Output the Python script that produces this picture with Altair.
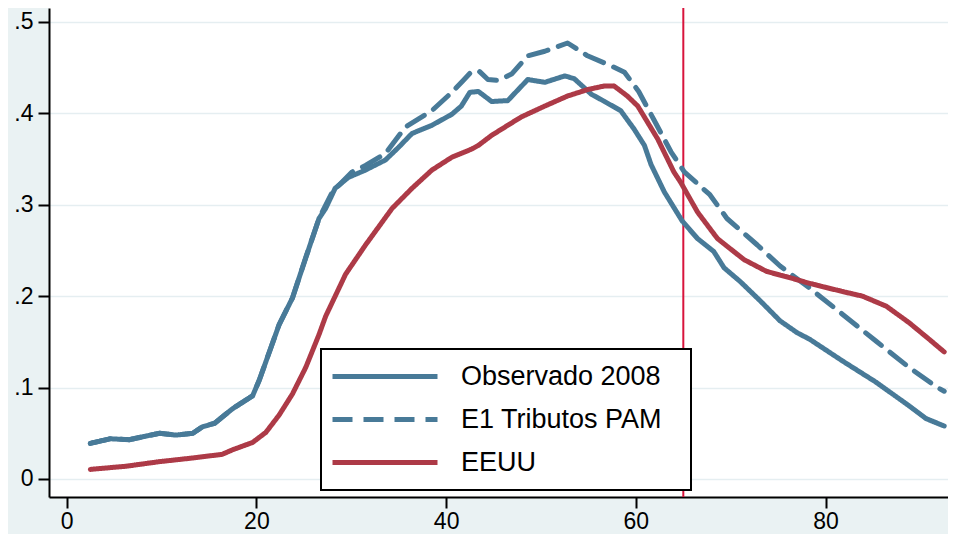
import altair as alt
import pandas as pd

# ---- data ----
series_names = ["Observado 2008", "E1 Tributos PAM", "EEUU"]

obs_x = [2.5, 4.6, 6.6, 8.4, 9.8, 11.5, 13.3, 14.3, 15.6, 17.5, 19.6, 20.3, 21.3, 22.4,
         23.8, 25.2, 26.6, 27.3, 28.3, 29.7, 31.5, 33.6, 35.0, 36.4, 38.5, 40.6, 41.6,
         42.5, 43.4, 44.8, 46.5, 48.6, 50.4, 52.5, 53.5, 55.3, 56.7, 58.4, 59.8, 60.9,
         61.6, 63.0, 64.9, 66.5, 68.2, 69.3, 71.0, 73.1, 75.2, 77.0, 78.3, 81.8, 85.3,
         88.8, 90.6, 92.5]
obs_y = [0.039, 0.044, 0.043, 0.047, 0.050, 0.048, 0.050, 0.057, 0.061, 0.077, 0.091,
         0.108, 0.137, 0.169, 0.198, 0.242, 0.285, 0.296, 0.318, 0.330, 0.338, 0.349,
         0.363, 0.378, 0.387, 0.399, 0.408, 0.423, 0.424, 0.413, 0.414, 0.437, 0.434,
         0.441, 0.438, 0.421, 0.413, 0.403, 0.383, 0.365, 0.344, 0.314, 0.282, 0.263,
         0.249, 0.231, 0.216, 0.195, 0.173, 0.160, 0.153, 0.129, 0.106, 0.080, 0.066,
         0.058]

e1_x = [2.5, 4.6, 6.6, 8.4, 9.8, 11.5, 13.3, 14.3, 15.6, 17.5, 19.6, 20.3, 21.3, 22.4,
        23.8, 25.2, 26.6, 28.0, 30.1, 31.5, 33.6, 35.7, 38.5, 40.6, 41.8, 42.7, 43.5,
        44.4, 45.5, 46.9, 48.6, 50.4, 52.8, 54.9, 57.4, 58.8, 60.3, 61.9, 63.7, 65.1,
        67.8, 69.6, 72.8, 75.2, 78.3, 81.8, 85.3, 88.8, 91.8, 92.5]
e1_y = [0.039, 0.044, 0.043, 0.047, 0.050, 0.048, 0.050, 0.057, 0.061, 0.077, 0.091,
        0.108, 0.137, 0.169, 0.198, 0.242, 0.285, 0.314, 0.336, 0.343, 0.356, 0.385,
        0.403, 0.423, 0.436, 0.446, 0.446, 0.437, 0.436, 0.443, 0.463, 0.468, 0.477,
        0.463, 0.452, 0.445, 0.424, 0.393, 0.358, 0.336, 0.311, 0.285, 0.256, 0.233,
        0.209, 0.180, 0.151, 0.122, 0.100, 0.096]

us_x = [2.5, 6.3, 9.8, 13.3, 16.4, 17.5, 19.6, 21.0, 22.4, 23.8, 25.2, 26.6, 27.3, 29.4,
        31.5, 34.3, 36.4, 38.5, 40.6, 42.7, 43.4, 44.8, 47.9, 50.4, 52.8, 54.9, 56.7,
        57.7, 59.1, 60.2, 62.3, 64.0, 64.7, 66.5, 68.6, 71.4, 73.8, 77.0, 78.3, 81.8,
        83.9, 86.4, 88.8, 90.9, 92.5]
us_y = [0.0105, 0.014, 0.019, 0.023, 0.027, 0.032, 0.040, 0.051, 0.070, 0.093, 0.122,
        0.158, 0.178, 0.224, 0.256, 0.296, 0.318, 0.338, 0.352, 0.361, 0.365, 0.376,
        0.396, 0.408, 0.419, 0.426, 0.430, 0.430, 0.419, 0.408, 0.372, 0.336, 0.325,
        0.292, 0.263, 0.240, 0.227, 0.218, 0.214, 0.205, 0.200, 0.189, 0.171, 0.153,
        0.139]

cutoff_x = [65]
x_ticks = [0, 20, 40, 60, 80]
y_ticks = [0, 0.1, 0.2, 0.3, 0.4, 0.5]

rows = []
for name, xs, ys in zip(series_names, [obs_x, e1_x, us_x], [obs_y, e1_y, us_y]):
    for i, (a, b) in enumerate(zip(xs, ys)):
        rows.append({"serie": name, "edad": a, "valor": b, "orden": i})
df = pd.DataFrame(rows)
df_rule = pd.DataFrame({"edad": cutoff_x})

blue = "#487a98"
red = "#ad3a47"
FONT = "Liberation Sans"

x_scale = alt.Scale(domain=[-1.86, 92.9], nice=False, zero=False)
y_scale = alt.Scale(domain=[-0.0197, 0.5153], nice=False, zero=False)

x_axis = alt.Axis(values=x_ticks, grid=False, title=None, domainColor="black",
                  domainWidth=2, tickColor="black", tickWidth=2, tickSize=11,
                  labelFontSize=23, labelColor="black", labelFont=FONT,
                  labelBaseline="alphabetic", labelPadding=20,
                  labelFlush=False, labelOverlap=False)
y_axis = alt.Axis(values=y_ticks, grid=True, gridColor="#e5eef1", gridWidth=1.5,
                  title=None, domainColor="black", domainWidth=2, tickColor="black",
                  tickWidth=2, tickSize=11, labelFontSize=23, labelColor="black",
                  labelFont=FONT, labelPadding=5, labelFlush=False, labelOverlap=False,
                  labelExpr="datum.value == 0 ? '0' : replace(format(datum.value, '.1f'), '0.', '.')")

rule = alt.Chart(df_rule).mark_rule(color="#d8143c", strokeWidth=2).encode(
    x=alt.X("edad:Q", scale=x_scale, axis=x_axis)
)

legend = alt.Legend(
    title="\u00a0", titleOrient="right", titleFontSize=4, titlePadding=15,
    orient="none", legendX=272, legendY=341, direction="vertical",
    symbolType="M0,0H20", symbolSize=110.25, symbolStrokeWidth=5,
    symbolOffset=-16, labelOffset=115, labelFontSize=27, labelFont=FONT,
    labelColor="black", labelLimit=500, padding=14, rowPadding=15,
    strokeColor="black", fillColor="white",
)

lines = alt.Chart(df).mark_line(strokeWidth=5, strokeCap="round", strokeJoin="round").encode(
    x=alt.X("edad:Q", scale=x_scale, axis=x_axis),
    y=alt.Y("valor:Q", scale=y_scale, axis=y_axis),
    color=alt.Color("serie:N", scale=alt.Scale(domain=series_names, range=[blue, blue, red]),
                    legend=legend, sort=series_names),
    strokeDash=alt.StrokeDash("serie:N",
                              scale=alt.Scale(domain=series_names, range=[[1, 0], [20, 11], [1, 0]]),
                              legend=legend, sort=series_names),
    order=alt.Order("orden:Q"),
)

chart = alt.layer(rule, lines).properties(
    width=899, height=489,
    autosize=alt.AutoSizeParams(type="none"),
    padding={"left": 41, "top": 0, "right": 0, "bottom": 37},
    background="#eaf2f3",
).configure(font=FONT).configure_view(fill="white", strokeWidth=0).configure_legend(strokeWidth=2)

chart.save("out.html", embed_options={"renderer": "svg", "actions": False})
